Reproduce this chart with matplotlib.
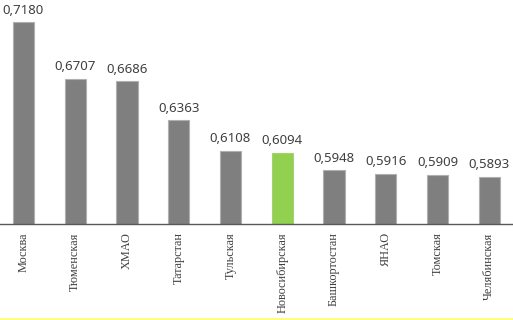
import matplotlib
matplotlib.use("Agg")
import matplotlib.pyplot as plt
from matplotlib.lines import Line2D

# Данные
regiones = ["Москва", "Тюменская", "ХМАО", "Татарстан", "Тульская",
            "Новосибирская", "Башкортостан", "ЯНАО", "Томская", "Челябинская"]
valores = [0.7180, 0.6707, 0.6686, 0.6363, 0.6108,
           0.6094, 0.5948, 0.5916, 0.5909, 0.5893]
destacado = "Новосибирская"

color_gris = "#7f7f7f"
color_verde = "#92d050"

fig = plt.figure(figsize=(5.13, 3.2), dpi=100)
ax = fig.add_axes([0, 0.3, 1, 0.7])

colores = [color_verde if r == destacado else color_gris for r in regiones]
bordes = ["#a8cf70" if r == destacado else "#b0b0b0" for r in regiones]
x = list(range(len(regiones)))
barras = ax.bar(x, valores, width=0.41, color=colores, edgecolor=bordes, linewidth=0.8)

# Etiquetas de valores
for b, v in zip(barras, valores):
    ax.annotate(f"{v:.4f}".replace(".", ","),
                (b.get_x() + b.get_width() / 2, v),
                xytext=(0, 4), textcoords="offset points",
                ha="center", va="bottom", fontsize=9.5,
                family="Noto Sans", color="#404040")

ax.set_xlim(-0.454, 9.46)
ax.set_ylim(0.55, 0.7364)

ax.set_xticks(x)
ax.set_xticklabels(regiones, rotation=90, fontsize=8.8,
                   family="Liberation Serif", color="#404040", va="top")
ax.tick_params(axis="x", length=0, pad=6)
ax.set_yticks([])

for lado in ["top", "right", "left"]:
    ax.spines[lado].set_visible(False)
ax.spines["bottom"].set_color("#595959")
ax.spines["bottom"].set_linewidth(1.0)

# Línea amarilla inferior
fig.add_artist(Line2D([0, 1], [0.004, 0.004], transform=fig.transFigure,
                      color="#ffff66", linewidth=1.2))

fig.savefig("out.png", dpi=100)
